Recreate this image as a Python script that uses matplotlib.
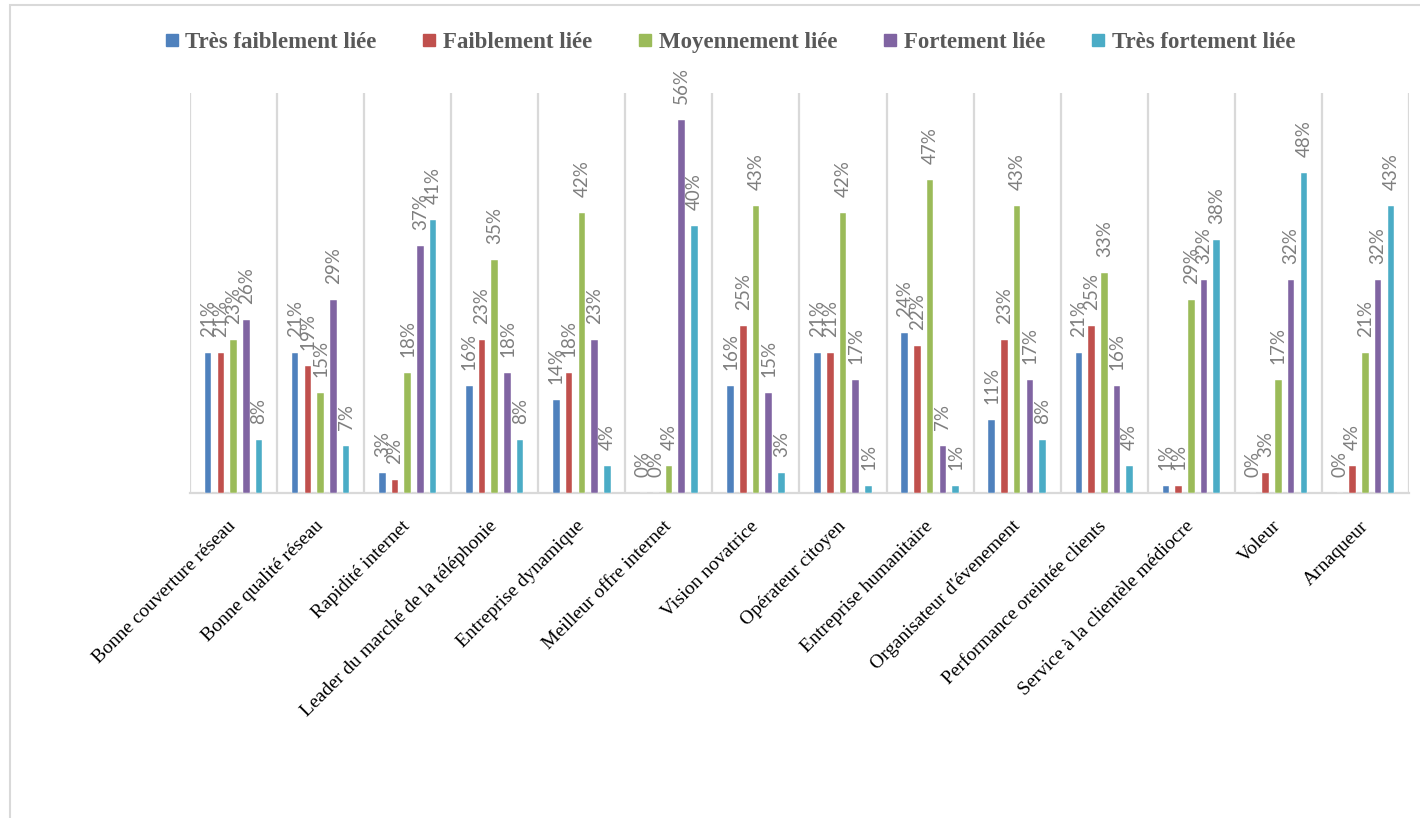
import matplotlib
matplotlib.use("Agg")
import matplotlib.pyplot as plt
from matplotlib.patches import Rectangle
from matplotlib.lines import Line2D
import numpy as np

categories = [
    "Bonne couverture réseau",
    "Bonne qualité réseau",
    "Rapidité internet",
    "Leader du marché de la téléphonie",
    "Entreprise dynamique",
    "Meilleur offre internet",
    "Vision novatrice",
    "Opérateur citoyen",
    "Entreprise humanitaire",
    "Organisateur d'évenement",
    "Performance oreintée clients",
    "Service à la clientèle médiocre",
    "Voleur",
    "Arnaqueur",
]

series_names = [
    "Très faiblement liée",
    "Faiblement liée",
    "Moyennement liée",
    "Fortement liée",
    "Très fortement liée",
]

tres_faiblement = [21, 21, 3, 16, 14, 0, 16, 21, 24, 11, 21, 1, 0, 0]
faiblement = [21, 19, 2, 23, 18, 0, 25, 21, 22, 23, 25, 1, 3, 4]
moyennement = [23, 15, 18, 35, 42, 4, 43, 42, 47, 43, 33, 29, 17, 21]
fortement = [26, 29, 37, 18, 23, 56, 15, 17, 7, 17, 16, 32, 32, 32]
tres_fortement = [8, 7, 41, 8, 4, 40, 3, 1, 1, 8, 4, 38, 48, 43]

series_values = [tres_faiblement, faiblement, moyennement, fortement, tres_fortement]
colors = ["#4F81BD", "#C0504D", "#9BBB59", "#8064A2", "#4BACC6"]

W, H = 1420, 818
fig = plt.figure(figsize=(W / 100, H / 100), dpi=100)
ax = fig.add_axes([190 / W, 1 - 493 / H, (1409 - 190) / W, (493 - 93) / H])

x = np.arange(len(categories))
step = 0.146
width = 0.075
grid_color = "#D9D9D9"

for i, (vals, col, name) in enumerate(zip(series_values, colors, series_names)):
    pos = x + (i - 2) * step
    bars = ax.bar(pos, vals, width=width, color=col, label=name,
                  edgecolor="white", linewidth=0.3, zorder=3)
    for b, v in zip(bars, vals):
        ax.annotate(f"{v}%", (b.get_x() + b.get_width() / 2, v),
                    xytext=(0, 11.5), textcoords="offset points",
                    rotation=90, ha="center", va="bottom",
                    fontsize=13.5, family="Lato", color="#7F7F7F",
                    annotation_clip=False, zorder=4)

for b in np.arange(-0.5, len(categories), 1.0):
    ax.axvline(b, color=grid_color, lw=1.6, zorder=1)

ax.set_xlim(-0.5, len(categories) - 0.5)
ax.set_ylim(0, 60)
for s in ["top", "left", "right"]:
    ax.spines[s].set_visible(False)
ax.spines["bottom"].set_color(grid_color)
ax.spines["bottom"].set_linewidth(1.6)
ax.set_yticks([])
ax.set_xticks(x)
ax.set_xticklabels(categories, rotation=45, ha="right", va="center",
                   rotation_mode="anchor", family="Liberation Serif",
                   fontsize=14, color="black")
ax.tick_params(axis="x", length=0, pad=22)

handles = [Line2D([0], [0], marker="s", linestyle="none", markersize=9,
                  markerfacecolor=c, markeredgecolor=c) for c in colors]
leg = fig.legend(handles, series_names, loc="center", ncol=5,
                 bbox_to_anchor=(730 / W, 1 - 42 / H), frameon=False,
                 prop={"family": "Liberation Serif", "weight": "bold", "size": 16.5},
                 handlelength=0.6, handletextpad=0.3, columnspacing=2.0)
for t in leg.get_texts():
    t.set_color("#595959")

# light frame along the top and left edges
fig.add_artist(Rectangle((10 / W, -0.05), 1.2, 1 - 5 / H + 0.05,
                         transform=fig.transFigure, fill=False,
                         edgecolor=grid_color, lw=1.5))

fig.savefig("out.png", dpi=100)
